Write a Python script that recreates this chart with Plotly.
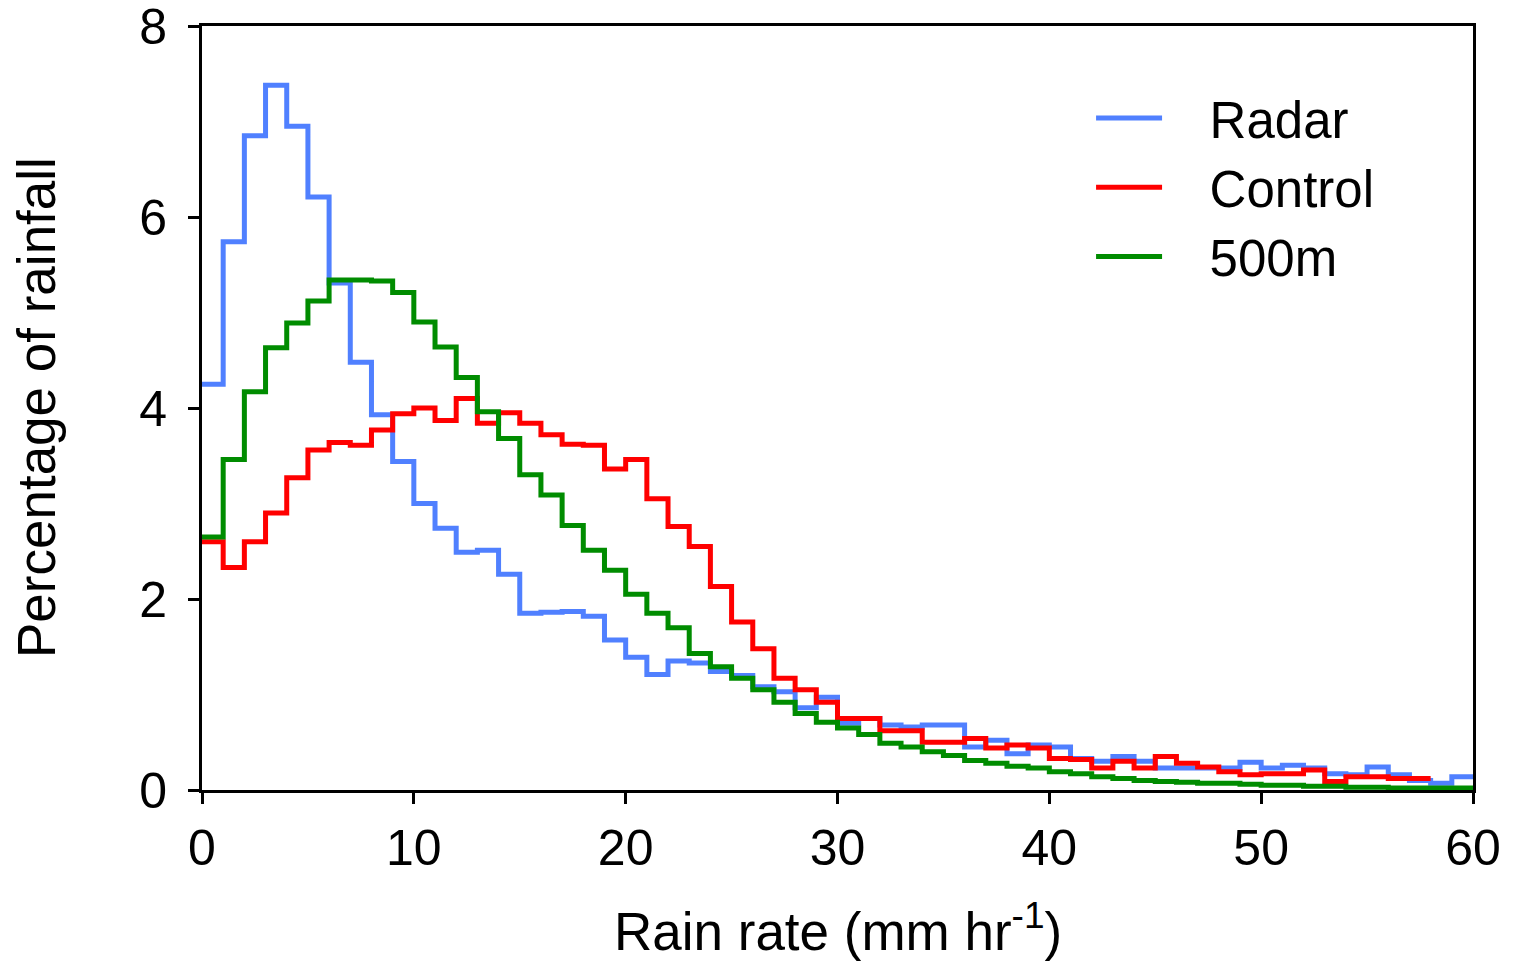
import numpy as np
import plotly.graph_objects as go

# Percentage of rainfall per 1 mm/hr rain-rate bin
radar = [4.25, 5.74, 6.85, 7.38, 6.95, 6.21, 5.31, 4.48, 3.93, 3.44,
         3.00, 2.74, 2.49, 2.51, 2.26, 1.85, 1.86, 1.87, 1.82, 1.57,
         1.39, 1.21, 1.35, 1.33, 1.24, 1.20, 1.08, 1.03, 0.86, 0.97,
         0.70, 0.75, 0.68, 0.66, 0.68, 0.68, 0.45, 0.52, 0.38, 0.47,
         0.45, 0.33, 0.30, 0.35, 0.30, 0.23, 0.23, 0.23, 0.23, 0.29,
         0.23, 0.26, 0.23, 0.17, 0.16, 0.24, 0.16, 0.10, 0.07, 0.14]
control = [2.60, 2.33, 2.60, 2.90, 3.27, 3.56, 3.64, 3.61, 3.77, 3.94,
           4.00, 3.87, 4.10, 3.84, 3.95, 3.84, 3.72, 3.62, 3.61, 3.36,
           3.46, 3.05, 2.76, 2.55, 2.13, 1.76, 1.48, 1.17, 1.05, 0.92,
           0.75, 0.75, 0.62, 0.62, 0.50, 0.50, 0.54, 0.44, 0.47, 0.44,
           0.33, 0.32, 0.23, 0.30, 0.23, 0.35, 0.28, 0.24, 0.19, 0.16,
           0.17, 0.17, 0.21, 0.09, 0.14, 0.14, 0.12, 0.12]
m500 = [2.65, 3.46, 4.17, 4.63, 4.89, 5.12, 5.34, 5.34, 5.33, 5.21,
        4.90, 4.64, 4.32, 3.96, 3.68, 3.30, 3.09, 2.77, 2.51, 2.30,
        2.05, 1.85, 1.70, 1.43, 1.29, 1.17, 1.05, 0.92, 0.80, 0.71,
        0.65, 0.58, 0.49, 0.45, 0.40, 0.36, 0.31, 0.28, 0.25, 0.23,
        0.19, 0.17, 0.14, 0.12, 0.10, 0.09, 0.08, 0.07, 0.07, 0.06,
        0.05, 0.05, 0.04, 0.04, 0.03, 0.03, 0.02, 0.02, 0.02, 0.02]

series_names = ["Radar", "Control", "500m"]
series_colors = ["rgb(80,128,255)", "rgb(255,0,0)", "rgb(0,140,0)"]
bin_width = 1.0

x_ticks = [0, 10, 20, 30, 40, 50, 60]
y_ticks = [0, 2, 4, 6, 8]

FONT = "Liberation Sans, Arial, Helvetica, sans-serif"
GAP = "\u00a0\u00a0\u00a0"

fig = go.Figure()
for name, vals, col in zip(series_names, [radar, control, m500], series_colors):
    edges = np.arange(len(vals) + 1) * bin_width
    yy = list(vals) + [vals[-1]]
    fig.add_trace(go.Scatter(
        x=edges, y=yy, mode="lines", name=GAP + name,
        line=dict(color=col, width=5, shape="hv"),
    ))

fig.update_layout(
    width=1505, height=958,
    paper_bgcolor="white", plot_bgcolor="white",
    margin=dict(l=194, r=40, t=18, b=176, autoexpand=False),
    font=dict(family=FONT, color="black", size=50),
    showlegend=True,
    legend=dict(
        x=0.6995, y=0.9315, xanchor="left", yanchor="top",
        bgcolor="rgba(0,0,0,0)", borderwidth=0,
        font=dict(size=51, family=FONT, color="black"),
        itemwidth=66, tracegroupgap=0,
    ),
    xaxis=dict(
        range=[0, 60], tickvals=x_ticks, ticktext=[str(v) for v in x_ticks],
        showgrid=False, zeroline=False, automargin=False,
        showline=True, linecolor="black", linewidth=3, mirror=True,
        ticks="outside", ticklen=11, tickwidth=3, tickcolor="black",
        ticklabelstandoff=1, ticklabeloverflow="allow",
        tickfont=dict(size=50, family=FONT, color="black"),
    ),
    yaxis=dict(
        range=[0, 8], tickvals=y_ticks, ticktext=[str(v) for v in y_ticks],
        showgrid=False, zeroline=False, automargin=False,
        showline=True, linecolor="black", linewidth=3, mirror=True,
        ticks="outside", ticklen=11, tickwidth=3, tickcolor="black",
        ticklabelstandoff=11, ticklabeloverflow="allow",
        tickfont=dict(size=50, family=FONT, color="black"),
    ),
    annotations=[
        dict(text="Rain rate (mm hr<sup>-1</sup>)", xref="paper", yref="paper",
             x=0.5, y=-0.18, xanchor="center", yanchor="middle", showarrow=False,
             font=dict(size=53, family=FONT, color="black")),
        dict(text="Percentage of rainfall", xref="paper", yref="paper",
             x=-0.1306, y=0.5, xanchor="center", yanchor="middle", showarrow=False,
             textangle=-90, font=dict(size=53, family=FONT, color="black")),
    ],
)

fig.write_html("out.html")
